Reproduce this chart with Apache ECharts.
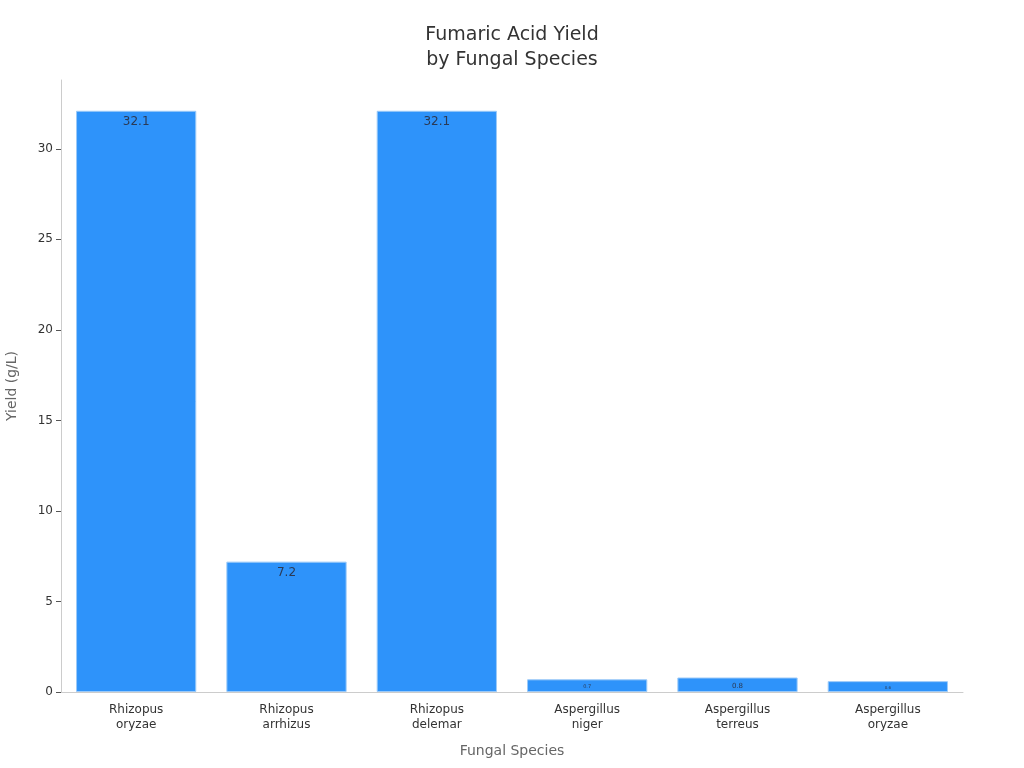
<!DOCTYPE html>
<html>
<head>
<meta charset="utf-8">
<script src="https://cdn.jsdelivr.net/npm/echarts@6/dist/echarts.min.js"></script>
<style>
  html, body { margin: 0; padding: 0; background: #fff; }
  #chart { width: 1024px; height: 768px; }
</style>
</head>
<body>
<div id="chart"></div>
<script>
const species = [
    'Rhizopus\noryzae',
    'Rhizopus\narrhizus',
    'Rhizopus\ndelemar',
    'Aspergillus\nniger',
    'Aspergillus\nterreus',
    'Aspergillus\noryzae'
];
const yieldValues = [32.1, 7.2, 32.1, 0.7, 0.8, 0.6];
const yTicks = [0, 5, 10, 15, 20, 25, 30];

// labels shrink on the thin bars, as in the original
const labelFontSizes = [12, 12, 12, 5, 7, 4];

function drawYieldChart(element) {
    var myChart = echarts.init(element);

    var barData = yieldValues.map(function (v, i) {
        return {
            value: v,
            label: { fontSize: labelFontSizes[i] }
        };
    });

    var option = {
        textStyle: { fontFamily: 'DejaVu Sans' },
        title: {
            text: 'Fumaric Acid Yield\nby Fungal Species',
            left: 'center',
            top: 18,
            textStyle: {
                fontFamily: 'DejaVu Sans',
                fontSize: 19,
                fontWeight: 'normal',
                color: '#333',
                lineHeight: 25
            }
        },
        grid: {
            left: 61,
            right: 61,
            top: 80,
            bottom: 76,
            outerBoundsMode: 'none',
            containLabel: false
        },
        xAxis: {
            type: 'category',
            data: species,
            name: 'Fungal Species',
            nameLocation: 'middle',
            nameGap: 52,
            nameTextStyle: { fontSize: 14, color: '#666' },
            axisLine: { lineStyle: { color: '#ccc' } },
            axisTick: { alignWithLabel: true, length: 5, lineStyle: { color: '#555' } },
            axisLabel: { fontSize: 12, color: '#333', lineHeight: 15, margin: 10 }
        },
        yAxis: {
            type: 'value',
            min: 0,
            max: 33.8,
            interval: 5,
            name: 'Yield (g/L)',
            nameLocation: 'middle',
            nameGap: 42,
            nameTextStyle: { fontSize: 14, color: '#666' },
            axisLine: { show: true, lineStyle: { color: '#ccc' } },
            axisTick: { show: true, length: 5, customValues: yTicks, lineStyle: { color: '#555' } },
            axisLabel: { fontSize: 12, color: '#333', customValues: yTicks },
            splitLine: { show: false }
        },
        series: [
            {
                type: 'bar',
                data: barData,
                barCategoryGap: '20%',
                itemStyle: {
                    color: '#2e93fa',
                    borderColor: '#9ccaf8',
                    borderWidth: 1
                },
                label: {
                    show: true,
                    position: 'insideTop',
                    distance: 5,
                    color: '#2b3a55'
                }
            }
        ]
    };
    myChart.setOption(option);
}

drawYieldChart(document.getElementById('chart'));
</script>
</body>
</html>
